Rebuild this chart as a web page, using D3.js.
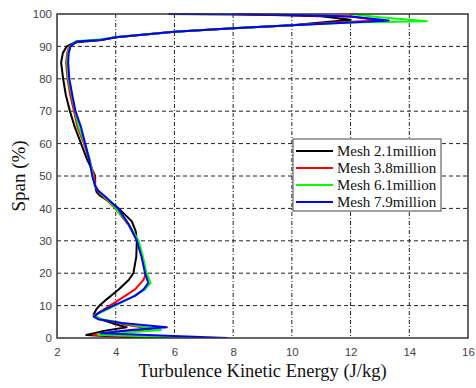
<!DOCTYPE html>
<html><head><meta charset="utf-8">
<script src="https://cdn.jsdelivr.net/npm/d3@7"></script>
<style>html,body{margin:0;padding:0;background:#fff;}svg{display:block;}</style>
</head><body>
<svg id="c" width="476" height="388"></svg>
<script>
const xTicks = [2,4,6,8,10,12,14,16];
const yTicks = [0,10,20,30,40,50,60,70,80,90,100];
const seriesNames = ["Mesh 2.1million","Mesh 3.8million","Mesh 6.1million","Mesh 7.9million"];
const seriesColors = ["#000000","#ff0000","#00ff00","#0000ff"];
// [TKE (J/kg), span (%)] along each profile
const mesh21 = [[5.0,0],[3.0,0.9],[3.6,2.2],[4.37,3.3],[3.9,4.5],[3.4,6.0],[3.25,7.3],[3.35,9],[3.45,10],[3.7,12],[4.1,15],[4.45,18],[4.6,20],[4.7,25],[4.72,30],[4.68,33],[4.55,36],[4.1,40],[3.8,42],[3.45,44],[3.35,45],[3.3,47],[3.3,50],[3.03,55],[2.82,60],[2.61,65],[2.44,70],[2.3,75],[2.21,80],[2.14,85],[2.2,88],[2.33,90],[2.6,91.2],[3.5,92],[4,92.8],[6,94.5],[8,95.6],[10,96.5],[12.0,98.2],[11,99.3],[9,99.8],[8,100]];
const mesh38 = [[6.0,0],[3.24,0.9],[4.2,1.8],[5.34,2.6],[4.3,4.2],[3.5,5.8],[3.25,7],[3.46,8],[3.8,10],[4.15,12],[4.66,15],[4.95,18],[5.03,20],[4.9,25],[4.74,30],[4.43,35],[3.98,40],[3.65,43],[3.42,45],[3.3,47],[3.27,50],[3.1,55],[2.92,60],[2.7,65],[2.58,70],[2.45,75],[2.36,80],[2.31,85],[2.35,88],[2.41,90],[2.7,91.5],[3.5,92],[4,92.8],[6,94.5],[8,95.6],[10,96.5],[11.5,97.4],[13.0,98],[12,99.2],[10,99.7],[8,100]];
const mesh61 = [[7.0,0],[3.4,1.0],[4.5,1.8],[5.54,2.5],[4.4,4.3],[3.5,5.8],[3.25,6.8],[3.52,8],[3.98,10],[4.43,12],[5.0,15],[5.19,17],[5.05,20],[4.93,25],[4.78,30],[4.45,35],[4.0,40],[3.68,43],[3.45,45],[3.28,47],[3.22,50],[3.12,55],[2.95,60],[2.74,65],[2.62,70],[2.5,75],[2.39,80],[2.35,85],[2.38,88],[2.44,90],[2.65,91.6],[3.5,92.2],[4,92.9],[6,94.5],[8,95.6],[10,96.5],[12,97.4],[14.6,97.8],[13,99],[12,100]];
const mesh79 = [[7.8,0],[3.5,1.5],[4.5,2.5],[5.74,3.3],[4.2,4.6],[3.4,5.8],[3.25,6.6],[3.46,8],[3.92,10],[4.66,13],[4.95,15],[5.11,17],[5.0,20],[4.88,25],[4.72,30],[4.45,35],[4.08,40],[3.65,43.6],[3.4,45.5],[3.3,47],[3.2,50],[3.1,55],[2.96,60],[2.82,65],[2.63,70],[2.52,75],[2.42,80],[2.38,85],[2.4,88],[2.46,90],[2.67,91.5],[3.5,92],[4,92.8],[6,94.5],[8,95.6],[10,96.5],[12,97.4],[13.3,98],[12,99.2],[10,99.7],[5.8,100]];
const allSeries = [mesh21, mesh38, mesh61, mesh79];

const svg = d3.select("#c");
const L = 57, R = 468, T = 14, B = 338;
const x = d3.scaleLinear().domain([2,16]).range([L,R]);
const y = d3.scaleLinear().domain([0,100]).range([B,T]);

// grid
const grid = svg.append("g");
grid.selectAll("line.v").data(xTicks.slice(1,-1)).enter().append("line")
  .attr("x1",d=>x(d)).attr("x2",d=>x(d)).attr("y1",T).attr("y2",B)
  .attr("stroke","#222").attr("stroke-width",1).attr("stroke-dasharray","4,2,1,2");
grid.selectAll("line.h").data(yTicks.slice(1,-1)).enter().append("line")
  .attr("y1",d=>y(d)).attr("y2",d=>y(d)).attr("x1",L).attr("x2",R)
  .attr("stroke","#222").attr("stroke-width",1).attr("stroke-dasharray","4,3");

// curves
const line = d3.line().x(d=>x(d[0])).y(d=>y(d[1]));
svg.append("defs").append("clipPath").attr("id","clip").append("rect")
  .attr("x",L).attr("y",T-2).attr("width",R-L).attr("height",B-T+2);
svg.append("g").attr("clip-path","url(#clip)").selectAll("path").data(allSeries).enter().append("path")
  .attr("d",line).attr("fill","none").attr("stroke",(d,i)=>seriesColors[i])
  .attr("stroke-width",2).attr("stroke-linejoin","round");

// frame
svg.append("rect").attr("x",L).attr("y",T).attr("width",R-L).attr("height",B-T)
  .attr("fill","none").attr("stroke","#333").attr("stroke-width",1.5);

// axes
const xAxis = svg.append("g").attr("transform",`translate(0,${B})`)
  .call(d3.axisBottom(x).tickValues(xTicks).tickSize(0).tickPadding(10).tickFormat(d3.format("d")));
const yAxis = svg.append("g").attr("transform",`translate(${L},0)`)
  .call(d3.axisLeft(y).tickValues(yTicks).tickSize(0).tickPadding(5).tickFormat(d3.format("d")));
[xAxis,yAxis].forEach(a=>{
  a.select(".domain").remove();
  a.selectAll("text").attr("font-family","'Liberation Sans', Arial, sans-serif").attr("font-size","11.5px").attr("fill","#444");
});

// axis titles
svg.append("text").attr("x",(L+R)/2).attr("y",377).attr("text-anchor","middle")
  .attr("font-family","'Liberation Serif','Times New Roman',serif").attr("font-size","18.5px").attr("fill","#111")
  .text("Turbulence Kinetic Energy (J/kg)");
svg.append("text").attr("transform",`translate(25,${(T+B)/2}) rotate(-90)`).attr("text-anchor","middle")
  .attr("font-family","'Liberation Serif','Times New Roman',serif").attr("font-size","19px").attr("fill","#111")
  .text("Span (%)");

// legend
const lg = svg.append("g");
lg.append("rect").attr("x",293).attr("y",139).attr("width",148).attr("height",72)
  .attr("fill","#fff").attr("stroke","#444").attr("stroke-width",1);
seriesNames.forEach((n,i)=>{
  const yy = 151 + i*17;
  lg.append("line").attr("x1",296).attr("x2",333).attr("y1",yy).attr("y2",yy)
    .attr("stroke",seriesColors[i]).attr("stroke-width",2);
  lg.append("text").attr("x",337).attr("y",yy+5)
    .attr("font-family","'Liberation Serif','Times New Roman',serif").attr("font-size","15px").attr("fill","#111")
    .text(n);
});
</script>
</body></html>
